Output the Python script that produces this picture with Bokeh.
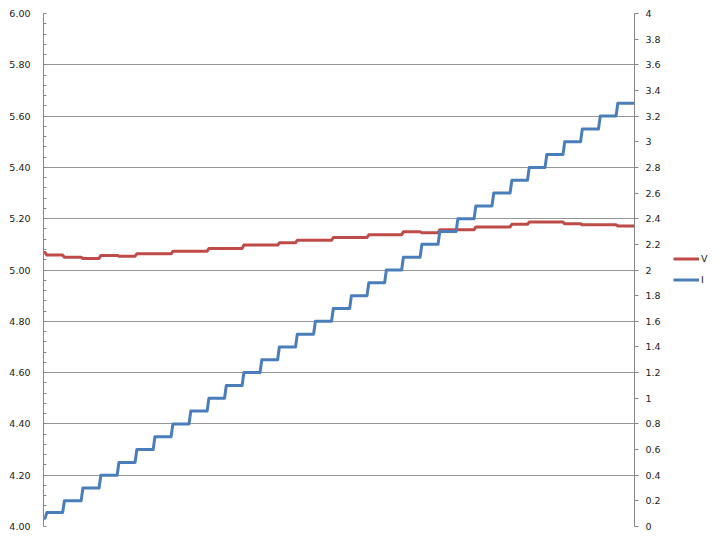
from bokeh.plotting import figure
from bokeh.layouts import row
from bokeh.models import (Range1d, LinearAxis, FixedTicker, NumeralTickFormatter,
                          CustomJSTickFormatter, Legend, LegendItem, ColumnDataSource)
from bokeh.embed import file_html
from bokeh.resources import INLINE

# ---- data ----
# time axis (arbitrary sample units, no labels shown)
i_time = [0, 0.9, 1.9, 10.8, 11.8, 21.2, 22.2, 31.3, 32.3, 41.5, 42.5, 51.6, 52.6,
          61.8, 62.8, 71.9, 72.9, 82.0, 83.0, 92.2, 93.2, 102.0, 103.0, 111.9, 112.9,
          122.0, 123.0, 131.9, 132.9, 142.0, 143.0, 152.2, 153.2, 162.3, 163.3, 172.5,
          173.5, 182.3, 183.3, 192.2, 193.2, 201.8, 202.8, 212.2, 213.2, 222.3, 223.3,
          232.5, 233.5, 242.6, 243.6, 252.7, 253.7, 262.9, 263.9, 272.7, 273.7, 282.6,
          283.6, 292.7, 293.7, 302.6, 303.6, 312.7, 313.7, 322.6, 323.6, 333.0]
i_amp = [0.065, 0.065, 0.11, 0.11, 0.2, 0.2, 0.3, 0.3, 0.4, 0.4, 0.5, 0.5, 0.6,
         0.6, 0.7, 0.7, 0.8, 0.8, 0.9, 0.9, 1.0, 1.0, 1.1, 1.1, 1.2,
         1.2, 1.3, 1.3, 1.4, 1.4, 1.5, 1.5, 1.6, 1.6, 1.7, 1.7,
         1.8, 1.8, 1.9, 1.9, 2.0, 2.0, 2.1, 2.1, 2.2, 2.2, 2.3,
         2.3, 2.4, 2.4, 2.5, 2.5, 2.6, 2.6, 2.7, 2.7, 2.8, 2.8,
         2.9, 2.9, 3.0, 3.0, 3.1, 3.1, 3.2, 3.2, 3.3, 3.3]

v_time = [0, 0.9, 1.9, 10.8, 11.8, 21.2, 22.2, 31.3, 32.3, 41.5, 42.5, 51.6, 52.6,
          71.9, 72.9, 92.2, 93.2, 111.9, 112.9, 131.9, 132.9, 142.0, 143.0, 162.3,
          163.3, 182.3, 183.3, 201.8, 202.8, 212.2, 213.2, 222.3, 223.3, 242.6, 243.6,
          262.9, 263.9, 272.7, 273.7, 292.7, 293.7, 302.6, 303.6, 322.6, 323.6, 333.0]
v_volt = [5.068, 5.068, 5.058, 5.058, 5.050, 5.050, 5.045, 5.045, 5.057, 5.057, 5.054, 5.054, 5.063,
          5.063, 5.073, 5.073, 5.084, 5.084, 5.097, 5.097, 5.106, 5.106, 5.116, 5.116,
          5.127, 5.127, 5.137, 5.137, 5.149, 5.149, 5.145, 5.145, 5.157, 5.157, 5.168,
          5.168, 5.178, 5.178, 5.187, 5.187, 5.180, 5.180, 5.176, 5.176, 5.172, 5.172]

series_names = ["V", "I"]
left_ticks = [4.0, 4.2, 4.4, 4.6, 4.8, 5.0, 5.2, 5.4, 5.6, 5.8, 6.0]
right_ticks = [0, 0.2, 0.4, 0.6, 0.8, 1.0, 1.2, 1.4, 1.6, 1.8, 2.0,
               2.2, 2.4, 2.6, 2.8, 3.0, 3.2, 3.4, 3.6, 3.8, 4.0]

# ---- styling ----
RED = "#BE4B48"
BLUE = "#4A7EBB"
AXIS = "#868686"
GRID = "#969696"
FONT = "DejaVu Sans"
FSIZE = "9.5px"
TXT = "#1a1a1a"
H = 541
W_MAIN = 664
W_LEG = 56

p = figure(width=W_MAIN, height=H, output_backend="svg", toolbar_location=None,
           x_range=Range1d(0, 333), y_range=Range1d(4, 6),
           x_axis_location=None, y_axis_location="left",
           min_border_left=43, min_border_right=30, min_border_top=13, min_border_bottom=15)
p.outline_line_color = None
p.background_fill_color = "white"
p.border_fill_color = "white"
p.xgrid.visible = False

minor_left = [round(4 + 0.04 * k, 2) for k in range(51)]
ya = p.yaxis[0]
ya.ticker = FixedTicker(ticks=left_ticks, minor_ticks=minor_left)
ya.formatter = NumeralTickFormatter(format="0.00")
ya.axis_line_color = AXIS
ya.major_tick_in = 0
ya.major_tick_out = 0
ya.minor_tick_in = 3
ya.minor_tick_out = 0
ya.minor_tick_line_color = AXIS
ya.major_label_standoff = 13
ya.major_label_text_font = FONT
ya.major_label_text_font_size = FSIZE
ya.major_label_text_color = TXT

p.ygrid.grid_line_color = GRID
p.ygrid.grid_line_width = 1

p.extra_y_ranges = {"i": Range1d(0, 4)}
ra = LinearAxis(y_range_name="i",
                ticker=FixedTicker(ticks=right_ticks),
                formatter=CustomJSTickFormatter(code="return String(Math.round(tick*10)/10)"))
ra.axis_line_color = AXIS
ra.major_tick_in = 0
ra.major_tick_out = 4
ra.major_tick_line_color = AXIS
ra.minor_tick_line_color = None
ra.major_label_standoff = 7
ra.major_label_text_font = FONT
ra.major_label_text_font_size = FSIZE
ra.major_label_text_color = TXT
p.add_layout(ra, "right")

src_v = ColumnDataSource(dict(t=v_time, y=v_volt))
src_i = ColumnDataSource(dict(t=i_time, y=i_amp))
p.line("t", "y", source=src_v, line_color=RED, line_width=3, line_join="round")
p.line("t", "y", source=src_i, line_color=BLUE, line_width=3, line_join="round",
       y_range_name="i")

# ---- legend panel (separate narrow figure to the right) ----
q = figure(width=W_LEG, height=H, output_backend="svg", toolbar_location=None,
           x_range=Range1d(0, W_LEG), y_range=Range1d(0, H),
           x_axis_location=None, y_axis_location=None,
           min_border_left=0, min_border_right=0, min_border_top=0, min_border_bottom=0)
q.outline_line_color = None
q.xgrid.visible = False
q.ygrid.visible = False
q.background_fill_color = "white"
q.border_fill_color = "white"
# proxy lines (kept outside the visible range) so the legend can draw its samples
lv = q.line([-20, -10], [-20, -20], line_color=RED, line_width=3)
li = q.line([-20, -10], [-20, -20], line_color=BLUE, line_width=3)

legend = Legend(items=[LegendItem(label=series_names[0], renderers=[lv]),
                       LegendItem(label=series_names[1], renderers=[li])],
                location=(9, 236), orientation="vertical", margin=0, padding=0, spacing=0,
                glyph_width=26, glyph_height=21, label_height=21, label_standoff=2,
                border_line_alpha=0, background_fill_alpha=0,
                label_text_font=FONT, label_text_font_size=FSIZE, label_text_color=TXT)
q.add_layout(legend, "center")

layout = row(p, q, spacing=0)
open("out.html", "w").write(file_html(layout, INLINE))
